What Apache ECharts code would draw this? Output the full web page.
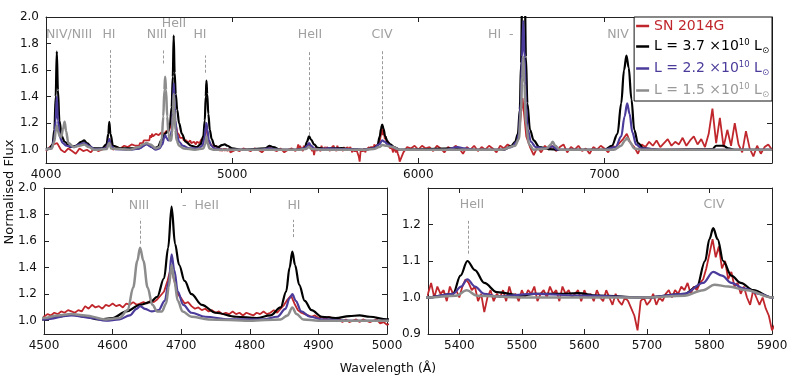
<!DOCTYPE html>
<html>
<head>
<meta charset="utf-8">
<script src="https://cdn.jsdelivr.net/npm/echarts@6/dist/echarts.min.js"></script>
<style>
  html, body { margin: 0; padding: 0; background: #fff; }
  #chart { width: 797px; height: 385px; }
</style>
</head>
<body>
<div id="chart"></div>
<script>
// observed spectrum, uniform sampling per segment
const redStart = [4000, 4500, 5020, 5350, 5920]
const redStep = [20, 5, 20, 5, 20]
const redFluxA = [
  0.99, 1.02, 1.04, 1.05, 1.00, 0.98, 1.01, 0.99, 0.97, 1.01, // 4000
  0.99, 1.00, 0.98, 1.01, 0.99, 1.00, 1.01, 1.08, 1.00, 1.02, // 4200
  1.01, 1.03, 1.02, 1.04, 1.03                                // 4400
]
const redFluxB = [
  1.03, 1.05, 1.04, 1.06, 1.05, 1.07, 1.06, 1.08, 1.07, 1.06, // 4500
  1.08, 1.07, 1.11, 1.09, 1.12, 1.10, 1.11, 1.09, 1.12, 1.11, // 4550
  1.13, 1.11, 1.12, 1.10, 1.13, 1.12, 1.14, 1.12, 1.13, 1.14, // 4600
  1.13, 1.15, 1.14, 1.16, 1.19, 1.22, 1.30, 1.40, 1.30, 1.20, // 4650
  1.17, 1.13, 1.14, 1.11, 1.09, 1.10, 1.08, 1.09, 1.07, 1.08, // 4700
  1.06, 1.07, 1.05, 1.06, 1.05, 1.07, 1.05, 1.06, 1.04, 1.06, // 4750
  1.05, 1.04, 1.06, 1.05, 1.07, 1.05, 1.06, 1.08, 1.06, 1.09, // 4800
  1.12, 1.16, 1.19, 1.13, 1.08, 1.06, 1.05, 1.04, 1.03, 1.04, // 4850
  1.02, 1.03, 1.01, 1.03, 1.02, 1.00, 1.02, 0.99, 1.01, 0.99, // 4900
  1.00, 1.01, 0.99, 1.01, 1.00, 0.99, 1.00, 1.01, 0.98, 0.99, // 4950
  0.97                                                        // 5000
]
const redFluxC = [
  1.00, 0.99, 1.01, 1.00, 0.99, 1.01, 1.00, 0.98, 1.01, 1.02, // 5020
  1.00, 0.99, 1.01, 0.98, 1.00, 1.01, 0.99                    // 5220
]
const redFluxD = [
  1.01, 1.04, 1.00, 1.03, 1.01, 1.02, 0.99, 1.03, 1.01, 1.02, // 5350
  1.00, 1.03, 1.05, 1.04, 1.02, 1.03, 0.99, 1.01, 0.96, 1.00, // 5400
  1.02, 0.99, 1.01, 1.00, 1.02, 0.99, 1.03, 1.00, 1.01, 0.99, // 5450
  1.02, 1.00, 1.02, 1.01, 1.03, 0.99, 1.01, 1.02, 1.00, 1.03, // 5500
  1.01, 1.02, 0.99, 1.03, 1.01, 1.02, 1.00, 1.01, 1.02, 0.99, // 5550
  1.02, 1.00, 1.01, 0.99, 1.02, 1.00, 0.99, 1.02, 1.00, 0.98, // 5600
  1.01, 0.99, 0.98, 1.00, 0.99, 0.97, 0.95, 0.91, 0.99, 1.00, // 5650
  0.98, 0.99, 1.01, 0.98, 1.00, 0.99, 1.01, 1.02, 1.00, 1.02, // 5700
  1.01, 1.03, 1.02, 1.04, 1.01, 1.03, 1.02, 1.04, 1.05, 1.08, // 5750
  1.12, 1.16, 1.11, 1.14, 1.08, 1.10, 1.05, 1.07, 1.03, 1.04, // 5800
  1.01, 1.03, 1.00, 0.98, 1.02, 1.00, 0.98, 1.00, 0.97, 0.95, // 5850
  0.91                                                        // 5900
]
const redFluxE = [
  0.98, 1.02, 1.01, 1.03, 1.00, 1.03, 1.01, 1.02, 0.99, 1.03, // 5920
  1.01, 0.98, 1.02, 1.00, 1.03, 1.01, 0.97, 1.02, 1.00, 1.03, // 6120
  0.99, 1.02, 1.00, 1.03, 1.01, 0.98, 1.03, 1.01, 1.04, 1.02, // 6320
  1.05, 1.10, 1.39, 1.10, 1.02, 0.96, 1.02, 0.98, 1.03, 1.00, // 6520
  1.03, 0.99, 1.02, 1.04, 0.98, 1.02, 1.00, 1.03, 0.99, 1.01, // 6720
  0.97, 1.02, 1.00, 1.03, 1.01, 0.98, 1.03, 1.02, 1.05, 1.08, // 6920
  1.12, 1.05, 1.02, 0.97, 1.04, 1.02, 1.06, 1.03, 1.07, 1.02, // 7120
  1.05, 1.08, 1.03, 1.06, 1.04, 1.09, 1.03, 1.07, 1.10, 1.04, // 7320
  1.08, 1.02, 1.12, 1.31, 1.05, 1.24, 1.02, 1.15, 1.03, 1.20, // 7520
  1.04, 0.98, 1.14, 1.01, 0.95, 1.03, 0.97, 1.02, 1.04, 1.00  // 7720
]
const redSegments = [redFluxA, redFluxB, redFluxC, redFluxD, redFluxE]

// model spectra [wavelength, flux]
const blackModel = [
  [4000, 1.00], [4020, 1.01], [4035, 1.04], [4045, 1.15], [4052, 1.40], [4058, 1.74], [4064, 1.45], [4072, 1.22],
  [4085, 1.10], [4100, 1.06], [4130, 1.02], [4160, 1.03], [4190, 1.06], [4205, 1.07], [4220, 1.05], [4250, 1.01],
  [4300, 1.01], [4325, 1.04], [4335, 1.12], [4340, 1.21], [4346, 1.12], [4360, 1.03], [4400, 1.01], [4500, 1.01],
  [4520, 1.03], [4540, 1.045], [4560, 1.03], [4580, 1.01], [4600, 1.02], [4620, 1.07], [4640, 1.12], [4655, 1.14],
  [4665, 1.18], [4675, 1.32], [4681, 1.55], [4686, 1.86], [4691, 1.58], [4697, 1.42], [4705, 1.30], [4715, 1.20],
  [4730, 1.12], [4750, 1.06], [4780, 1.03], [4810, 1.02], [4830, 1.04], [4845, 1.10], [4853, 1.22], [4858, 1.40],
  [4862, 1.52], [4866, 1.42], [4872, 1.27], [4880, 1.15], [4890, 1.08], [4905, 1.03], [4925, 1.02], [4945, 1.035],
  [4960, 1.04], [4975, 1.03], [5000, 1.01], [5050, 1.00], [5180, 1.01], [5200, 1.03], [5220, 1.02], [5260, 1.00],
  [5350, 1.00], [5390, 1.01], [5402, 1.06], [5413, 1.10], [5425, 1.075], [5440, 1.04], [5460, 1.015], [5500, 1.005],
  [5520, 1.01], [5560, 1.01], [5590, 1.012], [5620, 1.005], [5700, 1.00], [5760, 1.01], [5780, 1.03], [5793, 1.10],
  [5800, 1.16], [5806, 1.19], [5813, 1.16], [5822, 1.10], [5835, 1.06], [5850, 1.04], [5870, 1.02], [5900, 1.00],
  [6200, 1.01], [6300, 1.00], [6460, 1.00], [6500, 1.03], [6520, 1.06], [6535, 1.12], [6545, 1.30], [6552, 1.65],
  [6558, 2.20], [6565, 2.60], [6572, 2.20], [6578, 1.70], [6586, 1.35], [6600, 1.15], [6620, 1.07], [6650, 1.02],
  [6700, 1.005], [6750, 1.00], [7000, 1.00], [7040, 1.03], [7070, 1.12], [7090, 1.35], [7105, 1.60], [7118, 1.71],
  [7130, 1.62], [7145, 1.38], [7160, 1.15], [7180, 1.05], [7210, 1.01], [7300, 1.00], [7580, 1.005], [7600, 1.03],
  [7640, 1.03], [7665, 1.01], [7700, 1.00], [7900, 1.00]
]
const blueModel = [
  [4000, 1.00], [4030, 1.01], [4045, 1.08], [4052, 1.22], [4058, 1.40], [4064, 1.22], [4075, 1.09], [4090, 1.05],
  [4110, 1.03], [4150, 1.02], [4180, 1.04], [4205, 1.05], [4230, 1.03], [4260, 1.005], [4320, 1.01], [4333, 1.04],
  [4340, 1.08], [4348, 1.03], [4370, 1.005], [4450, 1.00], [4500, 1.01], [4540, 1.04], [4570, 1.02], [4590, 1.00],
  [4610, 1.01], [4625, 1.04], [4635, 1.09], [4640, 1.11], [4647, 1.09], [4657, 1.07], [4667, 1.08], [4676, 1.15],
  [4682, 1.30], [4686, 1.50], [4690, 1.38], [4695, 1.22], [4703, 1.12], [4715, 1.06], [4735, 1.03], [4770, 1.01],
  [4820, 1.01], [4840, 1.03], [4852, 1.09], [4858, 1.17], [4862, 1.20], [4867, 1.15], [4875, 1.07], [4888, 1.03],
  [4905, 1.01], [4950, 1.00], [5000, 1.00], [5150, 1.00], [5200, 1.01], [5250, 1.00], [5350, 1.00], [5390, 1.01],
  [5403, 1.03], [5413, 1.05], [5425, 1.03], [5440, 1.01], [5460, 1.003], [5520, 1.01], [5600, 1.005], [5700, 1.00],
  [5760, 1.01], [5790, 1.04], [5806, 1.07], [5820, 1.06], [5835, 1.04], [5855, 1.025], [5880, 1.01], [5900, 1.00],
  [6150, 1.00], [6210, 1.02], [6250, 1.01], [6300, 1.00], [6450, 1.00], [6500, 1.02], [6530, 1.06], [6540, 1.12],
  [6550, 1.35], [6557, 1.70], [6564, 1.97], [6571, 1.70], [6578, 1.35], [6588, 1.15], [6605, 1.06], [6630, 1.02],
  [6680, 1.01], [6720, 1.025], [6750, 1.00], [7000, 1.00], [7060, 1.02], [7090, 1.10], [7108, 1.25], [7122, 1.35],
  [7135, 1.27], [7150, 1.13], [7170, 1.04], [7200, 1.01], [7300, 1.00], [7900, 1.00]
]
const grayModel = [
  [4000, 1.00], [4030, 1.01], [4045, 1.06], [4052, 1.14], [4058, 1.18], [4064, 1.14], [4075, 1.10], [4082, 1.10],
  [4092, 1.16], [4100, 1.21], [4108, 1.14], [4120, 1.05], [4150, 1.02], [4180, 1.03], [4205, 1.04], [4230, 1.02],
  [4260, 1.00], [4325, 1.005], [4340, 1.05], [4350, 1.01], [4450, 1.00], [4500, 1.02], [4520, 1.04], [4540, 1.05],
  [4560, 1.04], [4590, 1.01], [4610, 1.02], [4622, 1.08], [4630, 1.25], [4636, 1.45], [4640, 1.55], [4645, 1.45],
  [4651, 1.25], [4658, 1.12], [4665, 1.07], [4672, 1.07], [4678, 1.13], [4682, 1.26], [4686, 1.42], [4690, 1.30],
  [4695, 1.15], [4702, 1.07], [4715, 1.03], [4740, 1.01], [4800, 1.00], [4845, 1.01], [4855, 1.04], [4862, 1.10],
  [4868, 1.05], [4878, 1.01], [4900, 1.00], [5000, 1.00], [5350, 1.00], [5395, 1.005], [5412, 1.02], [5428, 1.005],
  [5500, 1.00], [5700, 1.00], [5760, 1.005], [5790, 1.02], [5808, 1.035], [5830, 1.03], [5860, 1.02], [5900, 1.00],
  [6450, 1.00], [6520, 1.03], [6540, 1.08], [6552, 1.30], [6558, 1.55], [6564, 1.70], [6570, 1.50], [6578, 1.20],
  [6595, 1.04], [6620, 1.00], [6690, 1.01], [6712, 1.04], [6722, 1.06], [6735, 1.03], [6760, 1.00], [7050, 1.00],
  [7090, 1.03], [7110, 1.07], [7122, 1.09], [7135, 1.06], [7160, 1.01], [7200, 1.00], [7900, 1.00]
]

const seriesNames = ['SN 2014G', 'L = 3.7', 'L = 2.2', 'L = 1.5']
const seriesColors = ['#c0272d', '#000000', '#4b3c9b', '#8c8c8c']

const redData = []
redSegments.forEach((flux, s) => {
  flux.forEach((f, i) => redData.push([redStart[s] + i * redStep[s], f]))
})
const modelData = [redData, blackModel, blueModel, grayModel]

const chart = echarts.init(document.getElementById('chart'))

const grids = [
  { left: 46, top: 17, width: 726, height: 146 },
  { left: 44, top: 188, width: 343, height: 146 },
  { left: 428, top: 188, width: 344, height: 146 }
]
const xRanges = [[4000, 7900, [4000, 5000, 6000, 7000]], [4500, 5000, [4500, 4600, 4700, 4800, 4900, 5000]], [5350, 5900, [5400, 5500, 5600, 5700, 5800, 5900]]]
const yRanges = [[0.9, 2.0, [1.0, 1.2, 1.4, 1.6, 1.8, 2.0]], [0.9, 2.0, [1.0, 1.2, 1.4, 1.6, 1.8, 2.0]], [0.9, 1.3, [0.9, 1.0, 1.1, 1.2]]]

const axisCommon = {
  axisLine: { lineStyle: { color: '#222', width: 1 } },
  splitLine: { show: false }
}
const tickFont = { color: '#111', fontSize: 12, fontFamily: 'DejaVu Sans' }

const xAxis = []
const yAxis = []
// bottom / left with labels
for (let g = 0; g < 3; g++) {
  xAxis.push(Object.assign({}, axisCommon, {
    type: 'value', gridIndex: g, position: 'bottom', min: xRanges[g][0], max: xRanges[g][1],
    axisTick: { inside: true, length: 5, lineStyle: { color: '#222' }, customValues: xRanges[g][2] },
    axisLabel: Object.assign({ margin: 6, customValues: xRanges[g][2], formatter: v => String(v) }, tickFont)
  }))
  yAxis.push(Object.assign({}, axisCommon, {
    type: 'value', gridIndex: g, position: 'left', min: yRanges[g][0], max: yRanges[g][1],
    axisTick: { inside: true, length: 5, lineStyle: { color: '#222' }, customValues: yRanges[g][2] },
    axisLabel: Object.assign({ margin: 7, customValues: yRanges[g][2], formatter: v => v.toFixed(1) }, tickFont)
  }))
}
// mirrored top / right ticks
for (let g = 0; g < 3; g++) {
  xAxis.push(Object.assign({}, axisCommon, {
    type: 'value', gridIndex: g, position: 'top', min: xRanges[g][0], max: xRanges[g][1],
    axisTick: { inside: true, length: 5, lineStyle: { color: '#222' }, customValues: xRanges[g][2] },
    axisLabel: { show: false }
  }))
  yAxis.push(Object.assign({}, axisCommon, {
    type: 'value', gridIndex: g, position: 'right', min: yRanges[g][0], max: yRanges[g][1],
    axisTick: { inside: true, length: 5, lineStyle: { color: '#222' }, customValues: yRanges[g][2] },
    axisLabel: { show: false }
  }))
}

// dashed line markers, per panel
const lineMarks = [
  [[4345, 1.24, 1.75], [4630, 1.65, 1.75], [4855, 1.58, 1.71], [5415, 1.11, 1.75], [5805, 1.23, 1.75]],
  [[4640, 1.58, 1.77], [4863, 1.63, 1.76]],
  [[5415, 1.12, 1.21]]
]

const series = []
for (let g = 0; g < 3; g++) {
  modelData.forEach((d, k) => {
    const s = {
      name: seriesNames[k],
      type: 'line',
      xAxisIndex: g,
      yAxisIndex: g,
      data: d,
      symbol: 'none',
      clip: true,
      silent: true,
      animation: false,
      smooth: k === 0 ? false : 0.35,
      smoothMonotone: 'x',
      lineStyle: { color: seriesColors[k], width: k === 0 ? 1.8 : (k === 3 ? 2.5 : 2.2) },
      itemStyle: { color: seriesColors[k] },
      z: 2 + k
    }
    if (k === 0) {
      s.markLine = {
        silent: true,
        symbol: 'none',
        animation: false,
        label: { show: false },
        lineStyle: { color: '#999', type: [3, 2], width: 1 },
        data: lineMarks[g].map(m => [{ coord: [m[0], m[1]] }, { coord: [m[0], m[2]] }])
      }
    }
    series.push(s)
  })
}

const labelStyle = { fill: '#a0a0a0', font: '12.5px "DejaVu Sans"', textAlign: 'center', textVerticalAlign: 'middle', verticalAlign: 'middle' }
const lineLabels = [
  ['NIV/NIII', 69, 35], ['HI', 109, 35], ['NIII', 157, 35], ['HeII', 174, 24], ['HI', 200, 35],
  ['HeII', 310, 35], ['CIV', 382, 35], ['NIV', 618, 35],
  ['NIII', 139, 206], ['HI', 294, 206], ['HeII', 472, 205], ['CIV', 714, 205]
]
const graphic = lineLabels.map(l => ({
  type: 'text', x: l[1], y: l[2], silent: true,
  style: Object.assign({ text: l[0] }, labelStyle)
}))
graphic.push({ type: 'text', x: 488, y: 35, silent: true, style: Object.assign({}, labelStyle, { text: 'HI  -', textAlign: 'left', align: 'left' }) })
graphic.push({ type: 'text', x: 182, y: 206, silent: true, style: Object.assign({}, labelStyle, { text: '-  HeII', textAlign: 'left', align: 'left' }) })
graphic.push({
  type: 'text', x: 388, y: 369, silent: true,
  style: { text: 'Wavelength (Å)', fill: '#111', font: '12.5px "DejaVu Sans"', textAlign: 'center', align: 'center', textVerticalAlign: 'middle', verticalAlign: 'middle' }
})
graphic.push({
  type: 'text', x: 10, y: 192, rotation: Math.PI / 2, silent: true,
  style: { text: 'Normalised Flux', fill: '#111', font: '13px "DejaVu Sans"', textAlign: 'center', align: 'center', textVerticalAlign: 'middle', verticalAlign: 'middle' }
})

const legendText = {
  'SN 2014G': '{r|SN 2014G}',
  'L = 3.7': '{k|L = 3.7 ×10}{ks|10}{k| L}{ko|⊙}',
  'L = 2.2': '{b|L = 2.2 ×10}{bs|10}{b| L}{bo|⊙}',
  'L = 1.5': '{g|L = 1.5 ×10}{gs|10}{g| L}{go|⊙}'
}
const rich = {}
const keys = ['r', 'k', 'b', 'g']
const textColors = ['#c0272d', '#000000', '#4b3c9b', '#999999']
keys.forEach((c, i) => {
  rich[c] = { color: textColors[i], fontSize: 14, lineHeight: 17, fontFamily: 'DejaVu Sans' }
  rich[c + 's'] = { color: textColors[i], fontSize: 8.5, lineHeight: 10, verticalAlign: 'top', fontFamily: 'DejaVu Sans' }
  rich[c + 'o'] = { color: textColors[i], fontSize: 8.5, lineHeight: 10, verticalAlign: 'bottom', fontFamily: 'DejaVu Sans' }
})

chart.setOption({
  animation: false,
  backgroundColor: '#ffffff',
  grid: grids.map(g => Object.assign({ containLabel: false, outerBoundsMode: 'none' }, g)),
  xAxis: xAxis,
  yAxis: yAxis,
  legend: {
    data: seriesNames.map((n, i) => ({ name: n, icon: 'rect', itemStyle: { color: seriesColors[i] } })),
    orient: 'vertical',
    right: 25,
    top: 17,
    itemWidth: 13,
    itemHeight: 2.5,
    itemGap: 5,
    padding: [2, 3, 2, 2],
    backgroundColor: '#ffffff',
    borderColor: '#111',
    borderWidth: 1,
    borderRadius: 0,
    selectedMode: false,
    formatter: name => legendText[name],
    textStyle: { rich: rich, fontFamily: 'DejaVu Sans' }
  },
  graphic: graphic,
  series: series
})
</script>
</body>
</html>
